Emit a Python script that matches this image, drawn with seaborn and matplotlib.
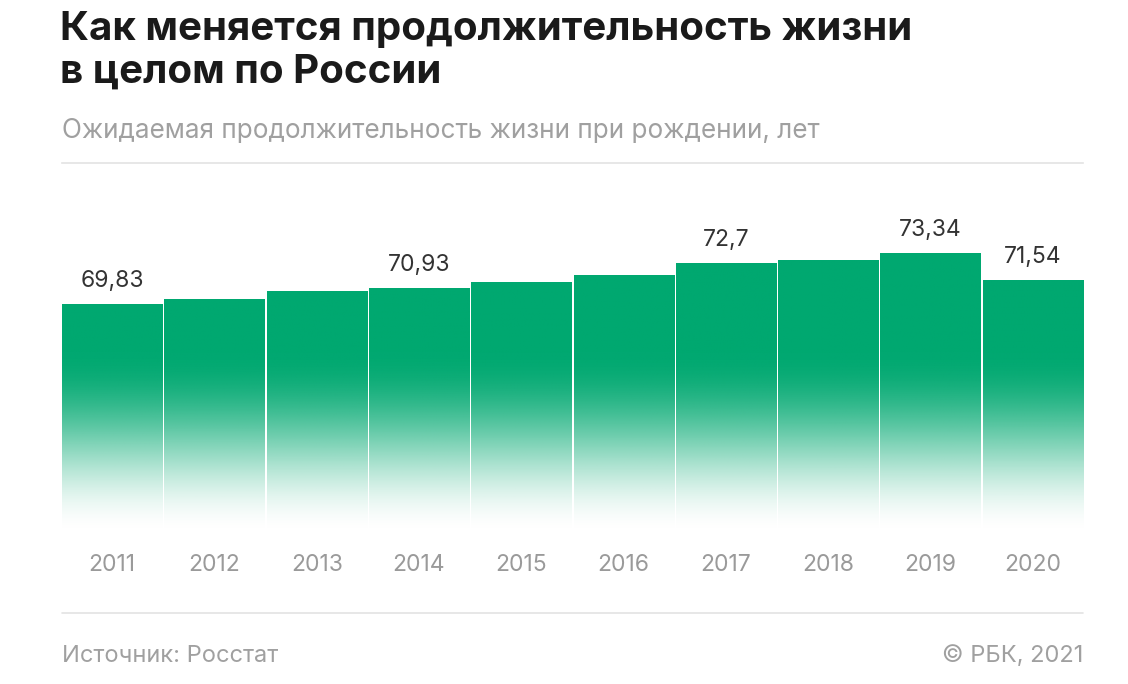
import numpy as np
import pandas as pd
import seaborn as sns
import matplotlib.pyplot as plt
from matplotlib.lines import Line2D

# данные
years = ['2011', '2012', '2013', '2014', '2015', '2016', '2017', '2018', '2019', '2020']
values = [69.83, 70.24, 70.77, 70.93, 71.39, 71.87, 72.70, 72.91, 73.34, 71.54]
labeled = ['2011', '2014', '2017', '2019', '2020']

title = 'Как меняется продолжительность жизни\nв целом по России'
subtitle = 'Ожидаемая продолжительность жизни при рождении, лет'
source = 'Источник: Росстат'
copyright_txt = '© РБК, 2021'

df = pd.DataFrame({'year': years, 'value': values})

sns.set_style('white')
plt.rcParams['font.family'] = ['Inter', 'DejaVu Sans']

green = np.array([0, 168, 112]) / 255.0
y_lo, y_hi = 54.0, 79.6
fade_top = 66.5   # выше этого уровня цвет сплошной

W, H = 1128, 684
fig = plt.figure(figsize=(W / 100, H / 100), dpi=100)
ax = fig.add_axes([62 / W, (H - 535) / H, 1021 / W, (535 - 163) / H])

sns.barplot(data=df, x='year', y='value', ax=ax, width=0.98,
            color='#00a870', saturation=1, edgecolor='none')
ax.set_ylim(y_lo, y_hi)
ax.set_xlim(-0.49, 9.49)

# градиент от зелёного к белому внизу каждого столбика
for p in ax.patches:
    x0 = p.get_x()
    x1 = x0 + p.get_width()
    top = p.get_height()
    ys = np.linspace(top, y_lo, 300)
    t = np.clip((ys - y_lo) / (fade_top - y_lo), 0, 1)
    a = t * t * (3 - 2 * t)
    img = np.ones((300, 1, 4))
    img[:, 0, :3] = green
    img[:, 0, 3] = a
    p.set_facecolor('none')
    ax.imshow(img, extent=[x0, x1, y_lo, top], aspect='auto',
              interpolation='bilinear', zorder=2)

# подписи значений
for i, (yr, v) in enumerate(zip(years, values)):
    if yr in labeled:
        txt = f'{v:.2f}'.rstrip('0').replace('.', ',')
        ax.annotate(txt, (i, v), xytext=(0, 9), textcoords='offset points',
                    ha='center', va='bottom', fontsize=16.5, color='#333333')

ax.set_xlabel('')
ax.set_ylabel('')
ax.set_yticks([])
ax.tick_params(axis='x', length=0, pad=14, labelsize=16.5, labelcolor='#9a9a9a')
for s in ['left', 'right', 'bottom']:
    ax.spines[s].set_visible(False)
ax.spines['top'].set_color('#e3e3e3')
ax.spines['top'].set_linewidth(1.2)

fig.text(60 / W, 1 - 11 / H, title, ha='left', va='top', fontsize=29,
         fontweight='bold', color='#1a1a1a', linespacing=1.2)
fig.text(62 / W, 1 - 131 / H, subtitle, ha='left', va='center', fontsize=18.8,
         color='#a0a0a0')
fig.add_artist(Line2D([62 / W, 1083 / W], [1 - 613 / H, 1 - 613 / H],
                      color='#e3e3e3', lw=1.2))
fig.text(62 / W, 1 - 656 / H, source, ha='left', va='center', fontsize=17,
         color='#a0a0a0')
fig.text(1083 / W, 1 - 656 / H, copyright_txt, ha='right', va='center',
         fontsize=17, color='#a0a0a0')

plt.savefig('out.png', dpi=100)
